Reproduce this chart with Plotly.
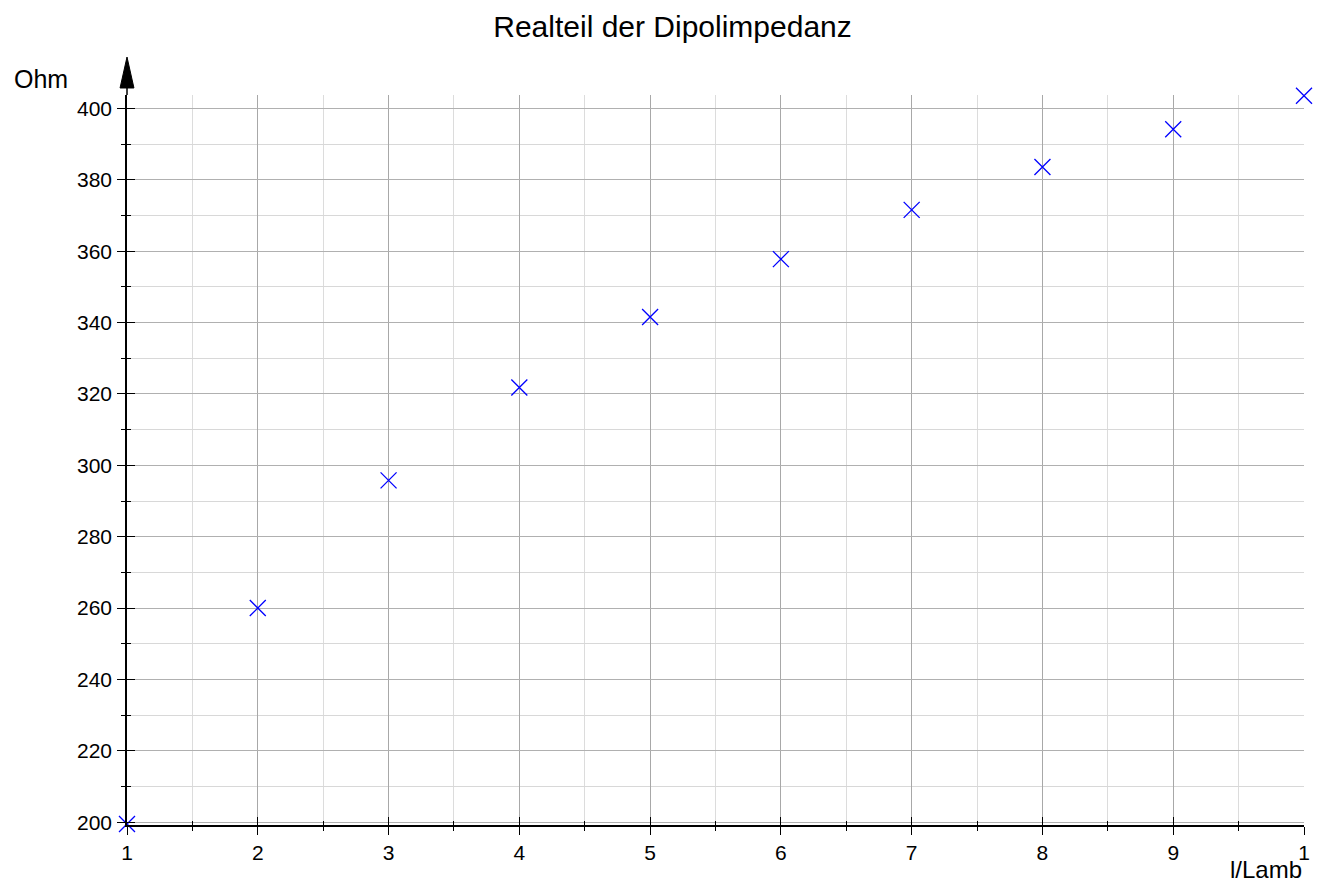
import plotly.graph_objects as go

x_vals = [1, 2, 3, 4, 5, 6, 7, 8, 9, 10]
r_vals = [199.5, 260.0, 295.8, 321.8, 341.6, 357.8, 371.6, 383.6, 394.2, 403.6]
x_tickvals = [1, 2, 3, 4, 5, 6, 7, 8, 9, 10]
x_ticktext = ["1", "2", "3", "4", "5", "6", "7", "8", "9", "1"]
y_tickvals = [200, 220, 240, 260, 280, 300, 320, 340, 360, 380, 400]

FONT = "Liberation Sans, Arial, Helvetica, sans-serif"
X_RANGE = [1, 10]
Y_RANGE = [199.2, 403.8]

fig = go.Figure()
fig.add_trace(go.Scatter(
    x=x_vals, y=r_vals, mode="markers",
    marker=dict(symbol="x-thin", size=16, line=dict(width=1.3, color="#0000ff"), color="#0000ff"),
    cliponaxis=False, showlegend=False,
))
# invisible trace to activate the overlay axes (for inside tick halves)
fig.add_trace(go.Scatter(x=[x_vals[0]], y=[r_vals[0]], xaxis="x2", yaxis="y2",
                         mode="markers", marker=dict(opacity=0), showlegend=False,
                         hoverinfo="skip"))

fig.update_layout(
    width=1320, height=881,
    margin=dict(l=127, r=16, t=95, b=56, autoexpand=False),
    paper_bgcolor="white", plot_bgcolor="white",
    font=dict(family=FONT, size=21, color="black"),
    title=dict(text="Realteil der Dipolimpedanz", x=0.5095, xanchor="center",
               y=0.97, yanchor="middle", font=dict(size=30, family=FONT)),
    xaxis=dict(
        range=X_RANGE, tickvals=x_tickvals, ticktext=x_ticktext, automargin=False,
        showgrid=True, gridcolor="#a8a8a8", gridwidth=1,
        minor=dict(dtick=0.5, tick0=1, showgrid=True, gridcolor="#dcdcdc",
                   ticks="outside", ticklen=4, tickcolor="black"),
        ticks="outside", ticklen=8, tickcolor="black",
        showline=True, linecolor="black", linewidth=1.5,
        zeroline=False, ticklabelstandoff=0,
    ),
    yaxis=dict(
        range=Y_RANGE, tickvals=y_tickvals, automargin=False,
        showgrid=True, gridcolor="#b0b0b0", gridwidth=1,
        minor=dict(dtick=10, tick0=200, showgrid=True, gridcolor="#d8d8d8",
                   ticks="outside", ticklen=4, tickcolor="black"),
        ticks="outside", ticklen=8, tickcolor="black",
        showline=True, linecolor="black", linewidth=1.5,
        zeroline=False, ticklabelstandoff=1,
    ),
    xaxis2=dict(
        range=X_RANGE, overlaying="x", side="bottom", anchor="y2", automargin=False,
        tickvals=x_tickvals, showticklabels=False, showgrid=False,
        minor=dict(dtick=0.5, tick0=1, showgrid=False, ticks="inside", ticklen=4, tickcolor="black"),
        ticks="inside", ticklen=8, tickcolor="black", showline=False, zeroline=False,
    ),
    yaxis2=dict(
        range=Y_RANGE, overlaying="y", side="left", anchor="x2", automargin=False,
        tickvals=y_tickvals, showticklabels=False, showgrid=False,
        minor=dict(dtick=10, tick0=200, showgrid=False, ticks="inside", ticklen=4, tickcolor="black"),
        ticks="inside", ticklen=8, tickcolor="black", showline=False, zeroline=False,
    ),
    annotations=[
        dict(text="Ohm", xref="paper", yref="paper", x=-0.098, y=1.0, xanchor="left",
             yanchor="bottom", yshift=0, showarrow=False, font=dict(size=25, family=FONT)),
        dict(text="l/Lamb", xref="paper", yref="paper", x=1.0, y=0, xanchor="right",
             yanchor="top", yshift=-29, showarrow=False, font=dict(size=24, family=FONT)),
    ],
    shapes=[
        dict(type="line", xref="paper", yref="paper", x0=0, x1=0, y0=1.0, y1=1.012,
             line=dict(color="black", width=1.5)),
        dict(type="path", xref="paper", yref="paper",
             path="M -0.0059 1.0096 L 0.0059 1.0096 L 0 1.052 Z",
             fillcolor="black", line=dict(color="black", width=1)),
    ],
)

fig.write_html("out.html")
